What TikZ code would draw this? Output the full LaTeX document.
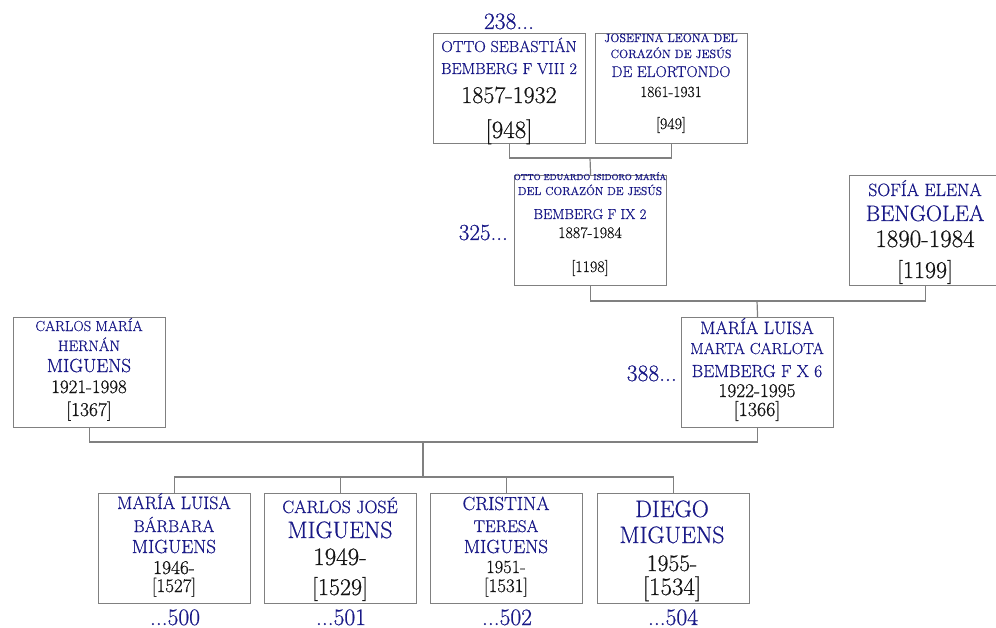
\documentclass[tikz,border=0pt]{standalone}
\usepackage{fontspec}
\setmainfont{Latin Modern Roman}[FakeBold=0.6]
\definecolor{nb}{RGB}{25,25,135}
\definecolor{tb}{RGB}{20,20,20}
\definecolor{bd}{RGB}{128,128,128}
\tikzset{
  pbox/.style={draw=bd, line width=1.2pt, fill=white, rectangle, minimum width=152pt, minimum height=110pt, inner sep=0pt, anchor=north west},
  conn/.style={draw=bd, line width=1.2pt},
}
\newcommand\tline[6]{\node[anchor=base, inner sep=0pt, text=#5, font=\fontsize{#4pt}{#4pt}\selectfont] (#1) at (#2,#3) {#6};}
\newcommand\tlab[6]{\node[anchor=#6, inner sep=0pt, text=nb, font=\fontsize{#4pt}{#4pt}\selectfont] (#1) at (#2,#3) {#5};}
\begin{document}
\begin{tikzpicture}[x=1pt,y=-1pt]
\useasboundingbox (0,0) rectangle (996,628);
% boxes
\node[pbox] (A) at (433,33) {};
\node[pbox] (B) at (595,33) {};
\node[pbox] (C) at (514,175) {};
\node[pbox] (D) at (849,175) {};
\node[pbox] (E) at (13,317) {};
\node[pbox] (F) at (681,317) {};
\node[pbox] (G) at (98,493) {};
\node[pbox] (H) at (264,493) {};
\node[pbox] (I) at (430,493) {};
\node[pbox] (J) at (597,493) {};
% connectors
\coordinate (jAB) at (590,158);
\draw[conn] (A.south) |- (jAB) -| (B.south);
\draw[conn] (jAB) -- (C.north);
\coordinate (jCD) at (757,301);
\draw[conn] (C.south) |- (jCD) -| (D.south);
\draw[conn] (jCD) -- (F.north);
\coordinate (jEF) at (423,442);
\draw[conn] (E.south) |- (jEF) -| (F.south);
\coordinate (kids) at (423,477);
\draw[conn] (jEF) -- (kids);
\draw[conn] (G.north) |- (kids) -| (J.north);
\draw[conn] (H.north) -- (H.north |- kids);
\draw[conn] (I.north) -- (I.north |- kids);
% texts A
\tline{tA1}{509}{52}{16}{nb}{OTTO SEBASTIÁN}
\tline{tA2}{509}{74}{16}{nb}{BEMBERG F VIII 2}
\tline{tA3}{509}{103}{24}{tb}{1857-1932}
\tline{tA4}{509}{138}{25}{tb}{[948]}
% B
\tline{tB1}{671}{42}{12}{nb}{JOSEFINA LEONA DEL}
\tline{tB2}{671}{58}{12}{nb}{CORAZÓN DE JESÚS}
\tline{tB3}{671}{77}{15.5}{nb}{DE ELORTONDO}
\tline{tB4}{671}{97}{15.5}{tb}{1861-1931}
\tline{tB5}{671}{129}{16}{tb}{[949]}
% C
\tline{tC1}{590}{180}{8.7}{nb}{OTTO EDUARDO ISIDORO MARÍA}
\tline{tC2}{590}{195}{11.6}{nb}{DEL CORAZÓN DE JESÚS}
\tline{tC3}{590}{219}{14.5}{nb}{BEMBERG F IX 2}
\tline{tC4}{590}{238}{16}{tb}{1887-1984}
\tline{tC5}{590}{272}{16}{tb}{[1198]}
% D
\tline{tD1}{925}{196}{17.8}{nb}{SOFÍA ELENA}
\tline{tD2}{925}{221}{22.3}{nb}{BENGOLEA}
\tline{tD3}{925}{247}{25}{tb}{1890-1984}
\tline{tD4}{925}{278}{24}{tb}{[1199]}
% E
\tline{tE1}{89}{331}{14.5}{nb}{CARLOS MARÍA}
\tline{tE2}{89}{351}{15.2}{nb}{HERNÁN}
\tline{tE3}{89}{372}{19}{nb}{MIGUENS}
\tline{tE4}{89}{393}{19}{tb}{1921-1998}
\tline{tE5}{89}{416}{19.5}{tb}{[1367]}
% F
\tline{tF1}{757}{334}{17.9}{nb}{MARÍA LUISA}
\tline{tF2}{757}{354}{16}{nb}{MARTA CARLOTA}
\tline{tF3}{757}{377}{17.5}{nb}{BEMBERG F X 6}
\tline{tF4}{757}{397}{19.4}{tb}{1922-1995}
\tline{tF5}{757}{416}{20}{tb}{[1366]}
% G
\tline{tG1}{174}{509}{17.9}{nb}{MARÍA LUISA}
\tline{tG2}{174}{532}{17}{nb}{BÁRBARA}
\tline{tG3}{174}{553}{19}{nb}{MIGUENS}
\tline{tG4}{174}{574}{19.5}{tb}{1946-}
\tline{tG5}{174}{592}{19}{tb}{[1527]}
% H
\tline{tH1}{340}{513}{17.8}{nb}{CARLOS JOSÉ}
\tline{tH2}{340}{538}{23.7}{nb}{MIGUENS}
\tline{tH3}{340}{565}{25}{tb}{1949-}
\tline{tH4}{340}{595}{24}{tb}{[1529]}
% I
\tline{tI1}{506}{510}{19}{nb}{CRISTINA}
\tline{tI2}{506}{532}{17}{nb}{TERESA}
\tline{tI3}{506}{553}{19}{nb}{MIGUENS}
\tline{tI4}{506}{573}{18.5}{tb}{1951-}
\tline{tI5}{506}{592}{19}{tb}{[1531]}
% J
\tline{tJ1}{672}{517}{23.7}{nb}{DIEGO}
\tline{tJ2}{672}{543}{23.7}{nb}{MIGUENS}
\tline{tJ3}{672}{571}{23.6}{tb}{1955-}
\tline{tJ4}{672}{595}{25}{tb}{[1534]}
% labels
\tlab{l238}{509}{29}{23.5}{238...}{base}
\tlab{l325}{508}{240}{23}{325...}{base east}
\tlab{l388}{677}{381}{23.5}{388...}{base east}
\tlab{l500}{175}{625}{23.5}{...500}{base}
\tlab{l501}{341}{625}{23.5}{...501}{base}
\tlab{l502}{507}{625}{23.5}{...502}{base}
\tlab{l504}{673}{625}{23.5}{...504}{base}
\end{tikzpicture}
\end{document}
